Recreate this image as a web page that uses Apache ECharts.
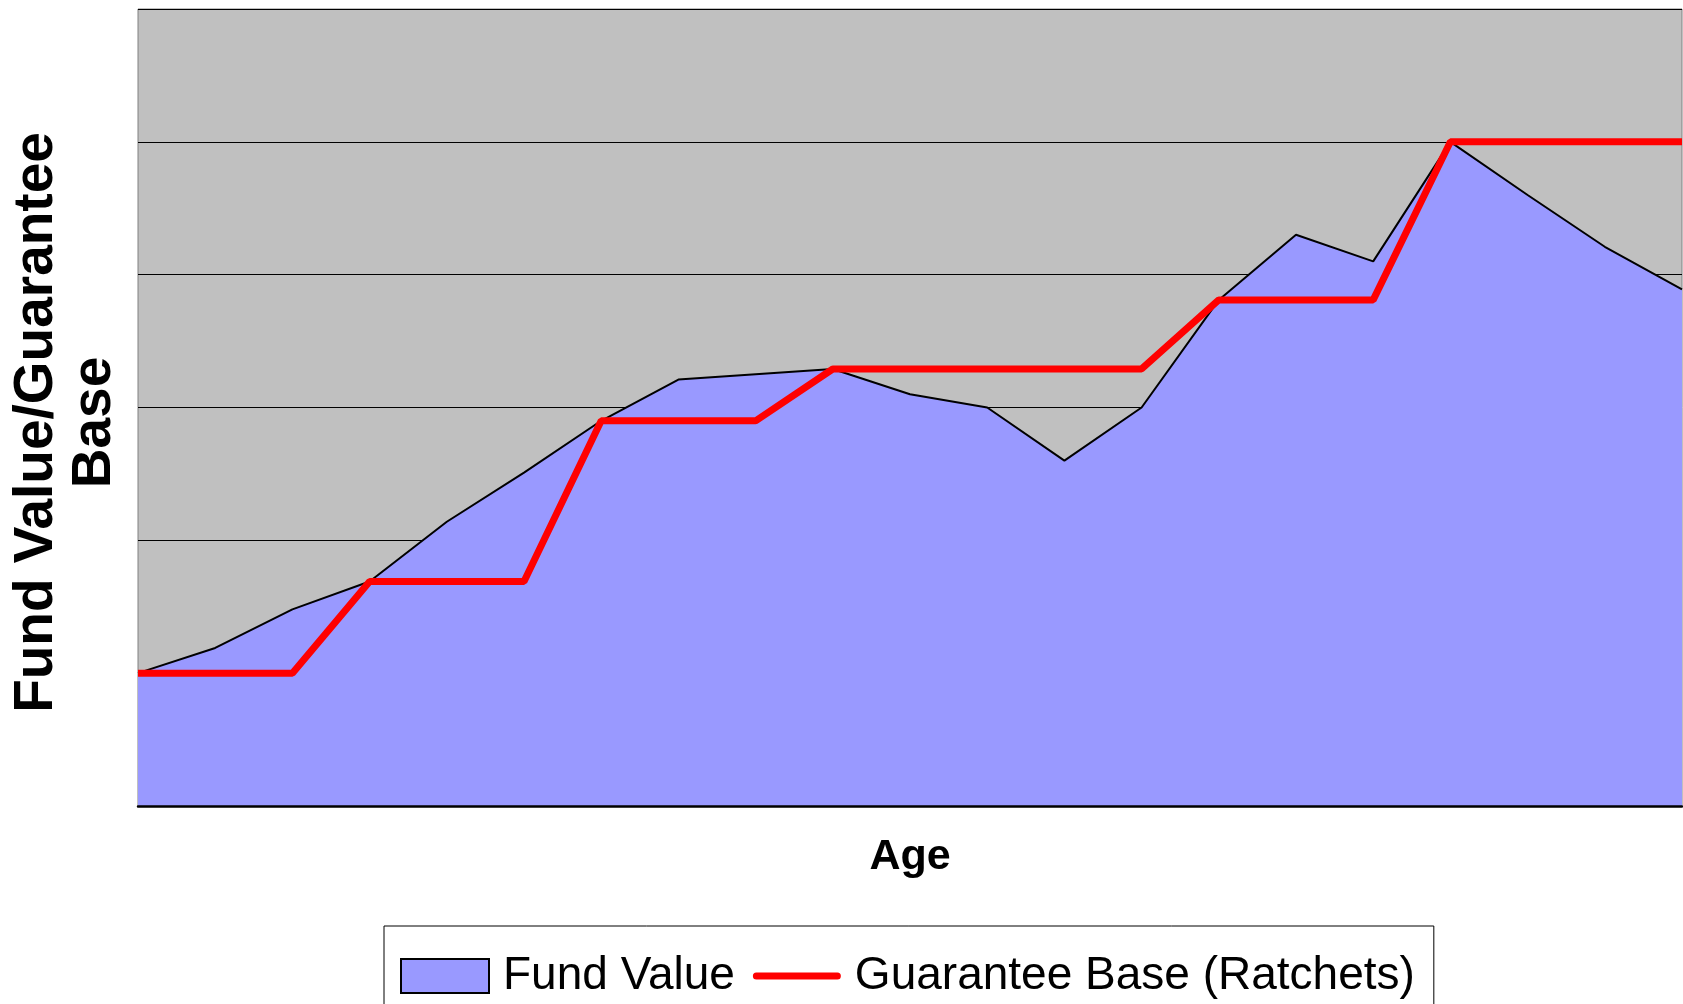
<!DOCTYPE html>
<html>
<head>
<meta charset="utf-8">
<script src="https://cdn.jsdelivr.net/npm/echarts@6/dist/echarts.min.js"></script>
<style>
html,body{margin:0;padding:0;background:#fff;}
#chart{width:1683px;height:1004px;}
</style>
</head>
<body>
<div id="chart"></div>
<script>
// Years since purchase (no age labels are printed on the original axis)
var years = ['0','1','2','3','4','5','6','7','8','9','10','11','12','13','14','15','16','17','18','19','20'];
// Fund value (grid-line units x100)
var fundValue = [100,119,148,169,214,251,290,321,325,329,310,300,260,300,381,430,410,500,460,421,389];
// Guarantee base, ratcheting up to the fund value
var guaranteeBase = [100,100,100,169,169,169,290,290,290,329,329,329,329,329,381,381,381,500,500,500,500];
var yTicks = {min:0, max:600, interval:100};

var chart = echarts.init(document.getElementById('chart'), null, {renderer:'canvas'});
chart.setOption({
  animation:false,
  backgroundColor:'#ffffff',
  grid:{left:128, right:1, top:9, bottom:198, show:true, backgroundColor:'#C0C0C0', borderColor:'#808080', borderWidth:1},
  xAxis:{
    type:'category', data:years, boundaryGap:false, z:10,
    axisLine:{show:true, lineStyle:{color:'#000', width:2.5}},
    axisTick:{show:false}, axisLabel:{show:false}, splitLine:{show:false},
    name:'Age', nameLocation:'middle', nameGap:30,
    nameTextStyle:{fontFamily:'"Liberation Sans",Arial,sans-serif', fontWeight:'bold', fontSize:43, color:'#000'}
  },
  yAxis:{
    type:'value', min:yTicks.min, max:yTicks.max, interval:yTicks.interval,
    axisLine:{show:false}, axisTick:{show:false}, axisLabel:{show:false},
    splitLine:{show:true, lineStyle:{color:'#000', width:1}},
    name:'Fund Value/Guarantee\nBase', nameLocation:'middle', nameRotate:90, nameGap:14,
    nameTextStyle:{fontFamily:'"Liberation Sans",Arial,sans-serif', fontWeight:'bold', fontSize:55, lineHeight:58, color:'#000', align:'center', padding:[0,30,0,0]}
  },
  legend:{
    left:384, top:926,
    padding:[27,19,27,16],
    borderColor:'#000', borderWidth:1,
    itemWidth:88, itemHeight:34, itemGap:18,
    textStyle:{fontFamily:'"Liberation Sans",Arial,sans-serif', fontSize:46, color:'#000', padding:[0,0,0,9]},
    data:[
      {name:'Fund Value', icon:'rect', itemStyle:{color:'#9999FF', borderColor:'#000', borderWidth:2}},
      {name:'Guarantee Base (Ratchets)', icon:'path://M3.5,0 L84.5,0 A3.5,3.5 0 0 1 84.5,7 L3.5,7 A3.5,3.5 0 0 1 3.5,0 Z', itemStyle:{color:'#FF0000', borderWidth:0}}
    ]
  },
  series:[
    {
      name:'Fund Value', type:'line', data:fundValue, symbol:'none',
      lineStyle:{color:'#000', width:2},
      areaStyle:{color:'#9999FF', opacity:1},
      itemStyle:{color:'#9999FF'},
      z:2
    },
    {
      name:'Guarantee Base (Ratchets)', type:'line', data:guaranteeBase, symbol:'none',
      lineStyle:{color:'#FF0000', width:7},
      itemStyle:{color:'#FF0000'},
      z:3
    }
  ]
});
</script>
</body>
</html>
